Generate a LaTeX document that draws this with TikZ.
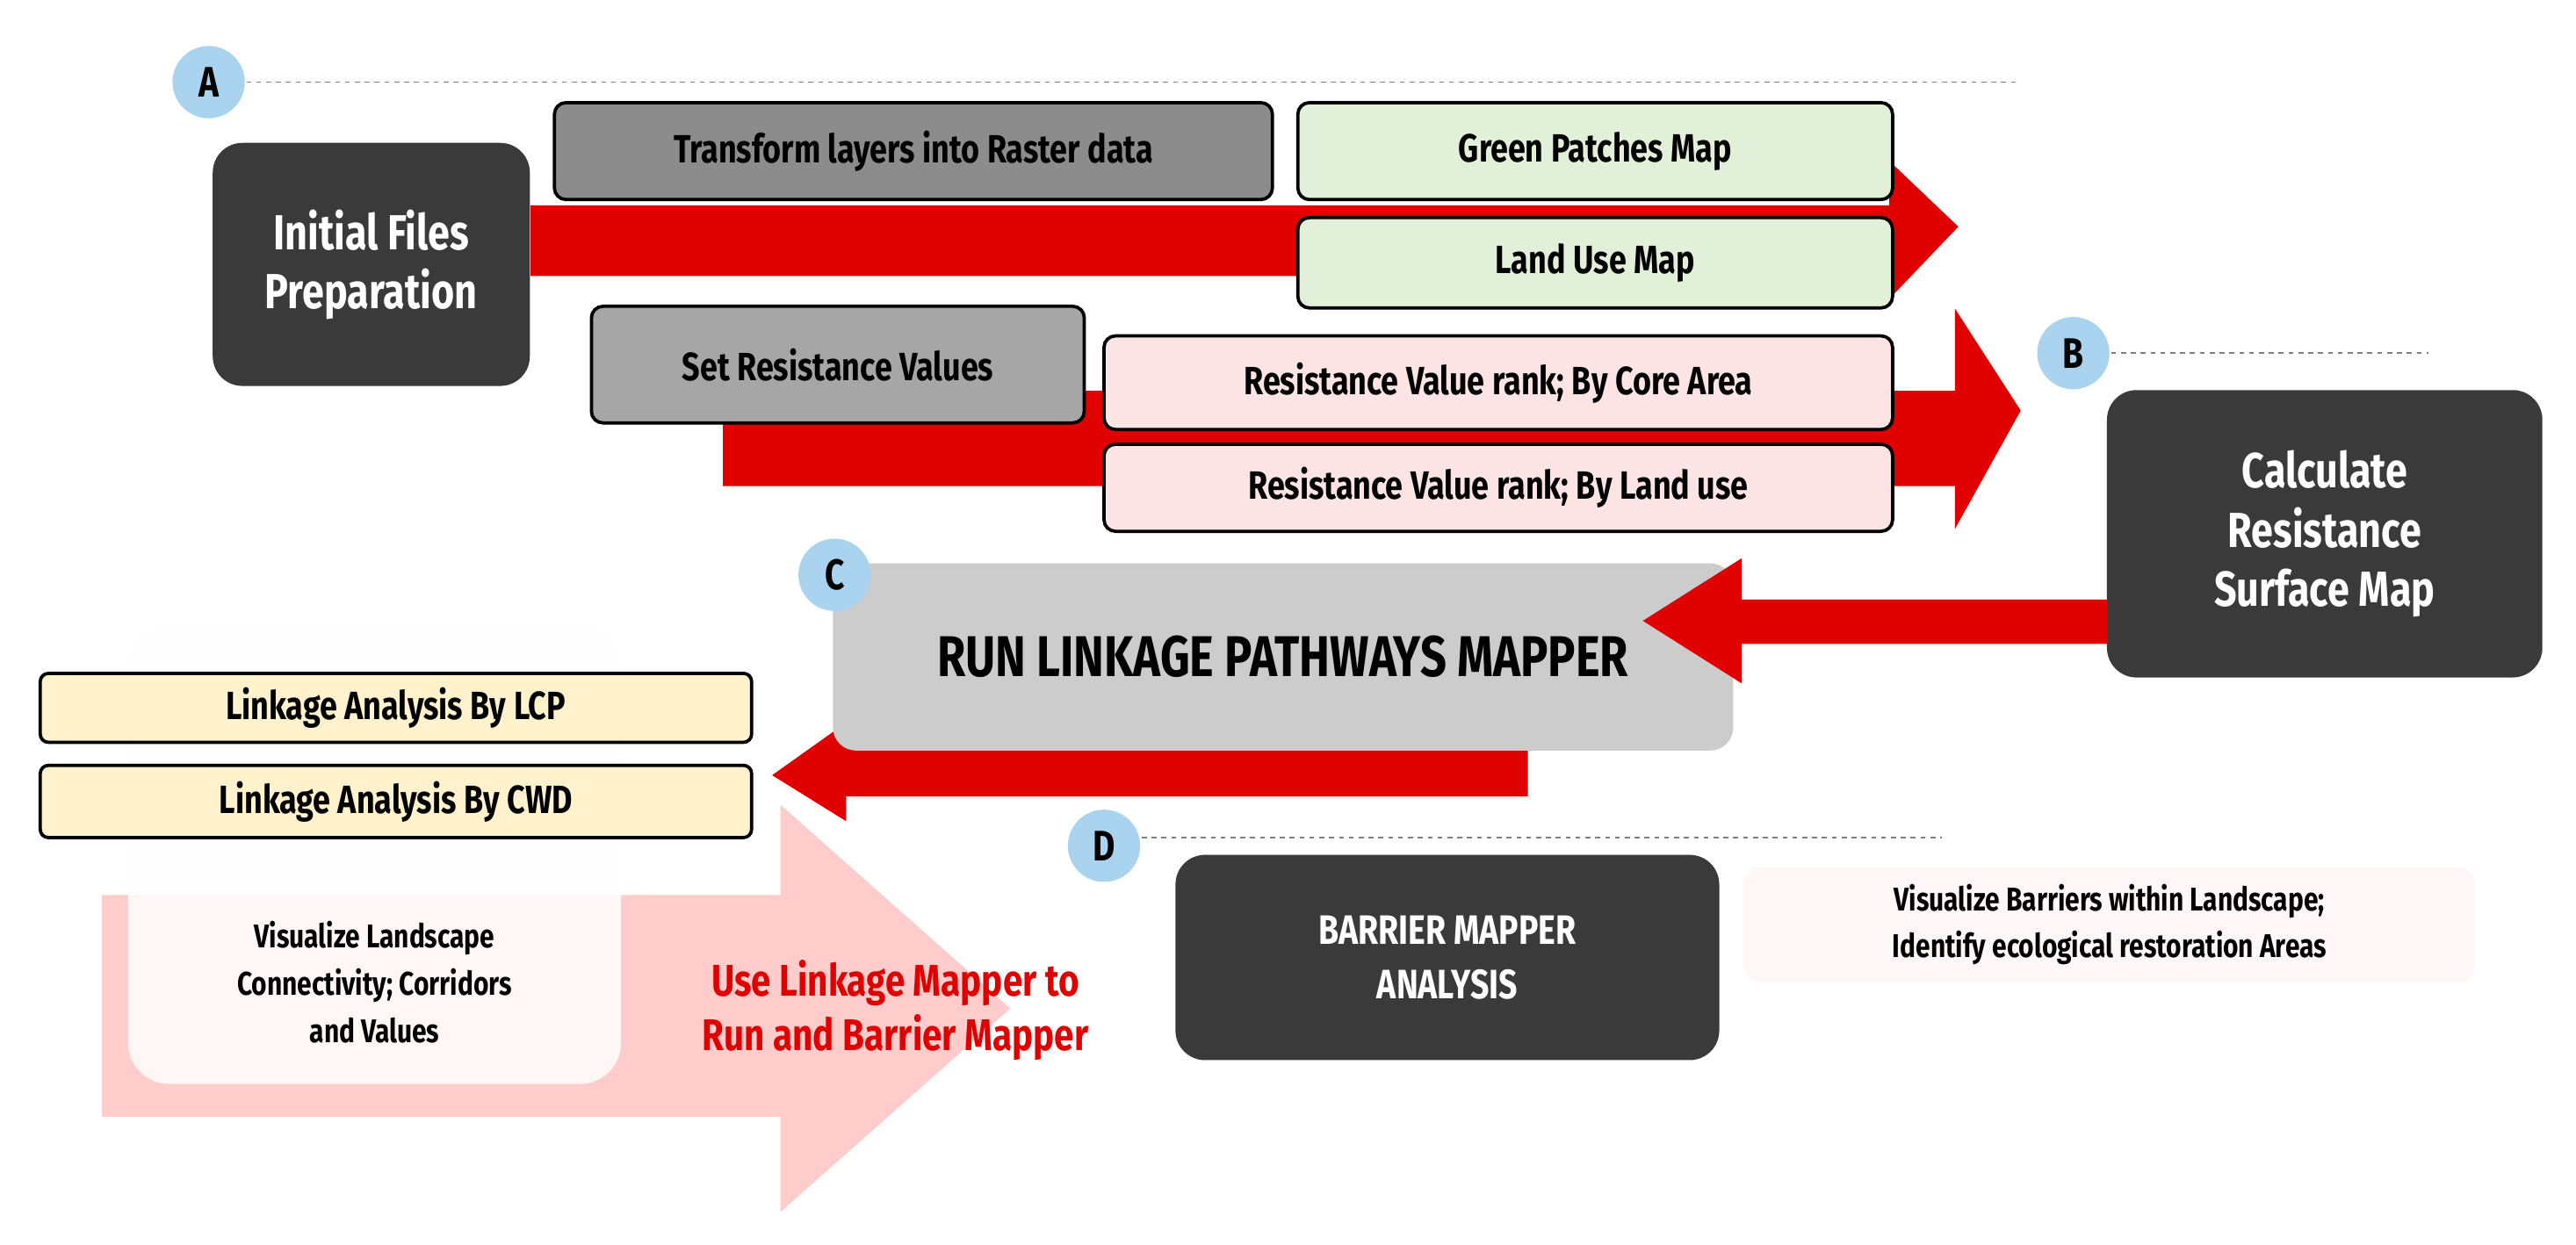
\documentclass[tikz,border=0pt]{standalone}
\usepackage{fontspec}
\setmainfont{Fira Sans}[FakeStretch=0.8]
\usetikzlibrary{shapes.arrows}
\definecolor{dark}{HTML}{3A3A3A}
\definecolor{circ}{HTML}{A9D3EE}
\definecolor{rd}{HTML}{E00000}
\definecolor{grn}{HTML}{E2F0D9}
\definecolor{pnk}{HTML}{FCE4E4}
\definecolor{yel}{HTML}{FFF2CC}
\begin{document}
\begin{tikzpicture}[x=1pt,y=-1pt,
 lbl/.style={circle,fill=circ,minimum size=44pt,inner sep=0pt,font=\fontsize{26}{28}\selectfont\bfseries},
 dl/.style={gray,dashed,line width=1pt},
 db/.style={rounded corners=18pt,fill=dark,text=white,align=center,font=\fontsize{30}{36}\selectfont\bfseries},
 bx/.style={rounded corners=7pt,draw=black,line width=2pt,align=center,font=\fontsize{24}{28}\selectfont\bfseries},
 arr/.style={fill=rd}]
\useasboundingbox (0,0) rectangle (1568,758);
% pink big arrow
\fill[red!20] (62,545) -- (475,545) -- (475,490) -- (615,614) -- (475,738) -- (475,680) -- (62,680) -- cycle;
\node[fill=white!90!red!5,opacity=0.85,rounded corners=25pt,minimum width=300pt,minimum height=280pt] (vis) at (228,520) {};
\node[align=center,font=\fontsize{20}{29}\selectfont\bfseries] at (228,598) {Visualize Landscape\\Connectivity; Corridors\\and Values};
% arrows
\fill[arr] (323,125) -- (1150,125) -- (1150,98) -- (1192,138) -- (1150,182) -- (1150,168) -- (323,168) -- cycle;
\fill[arr] (440,238) -- (1190,238) -- (1190,188) -- (1230,250) -- (1190,322) -- (1190,296) -- (440,296) -- cycle;
\fill[arr] (930,440) -- (930,485) -- (515,485) -- (515,500) -- (470,472) -- (515,440) -- cycle;
% A
\draw[dl] (150,50) -- (1230,50);
\node[lbl] (A) at (127,50) {A};
\node[db,minimum width=193pt,minimum height=148pt] (init) at (226,161) {Initial Files\\Preparation};
\node[bx,fill=black!45,minimum width=437pt,minimum height=59pt] (tr) at (556,92) {Transform layers into Raster data};
\node[bx,fill=grn,minimum width=362pt,minimum height=59pt] (gp) at (971,92) {Green Patches Map};
\node[bx,fill=grn,minimum width=362pt,minimum height=55pt] (lu) at (971,160) {Land Use Map};
\node[bx,fill=black!35,minimum width=300pt,minimum height=71pt] (sr) at (510,222) {Set Resistance Values};
\node[bx,fill=pnk,minimum width=480pt,minimum height=57pt] (rc) at (912,233) {Resistance Value rank; By Core Area};
\node[bx,fill=pnk,minimum width=480pt,minimum height=53pt] (rl) at (912,297) {Resistance Value rank; By Land use};
% B
\draw[dl] (1285,215) -- (1478,215);
\node[lbl] (B) at (1262,215) {B};
\node[db,minimum width=265pt,minimum height=175pt] (calc) at (1415,325) {Calculate\\Resistance\\Surface Map};
% C
\node[rounded corners=14pt,fill=black!20,minimum width=548pt,minimum height=114pt,font=\fontsize{35}{38}\selectfont\bfseries] (run) at (781,400) {RUN LINKAGE PATHWAYS MAPPER};
\fill[arr] (1283,365) -- (1060,365) -- (1060,340) -- (1000,378) -- (1060,416) -- (1060,392) -- (1283,392) -- cycle;
\node[lbl] (C) at (508,350) {C};
\node[bx,fill=yel,minimum width=433pt,minimum height=42pt,rounded corners=5pt] (lcp) at (241,431) {Linkage Analysis By LCP};
\node[bx,fill=yel,minimum width=433pt,minimum height=44pt,rounded corners=5pt] (cwd) at (241,488) {Linkage Analysis By CWD};
\node[text=rd,align=center,font=\fontsize{27}{33}\selectfont\bfseries] (use) at (545,615) {Use Linkage Mapper to\\Run and Barrier Mapper};
% D
\draw[dl] (695,510) -- (1182,510);
\node[lbl] (D) at (672,515) {D};
\node[db,minimum width=331pt,minimum height=125pt,font=\fontsize{25}{33}\selectfont\bfseries] (bar) at (881,583) {BARRIER MAPPER\\ANALYSIS};
\node[rounded corners=10pt,fill=red!3,minimum width=445pt,minimum height=70pt,align=center,font=\fontsize{20}{28}\selectfont\bfseries] (vb) at (1284,563) {Visualize Barriers within Landscape;\\Identify ecological restoration Areas};
\end{tikzpicture}
\end{document}
